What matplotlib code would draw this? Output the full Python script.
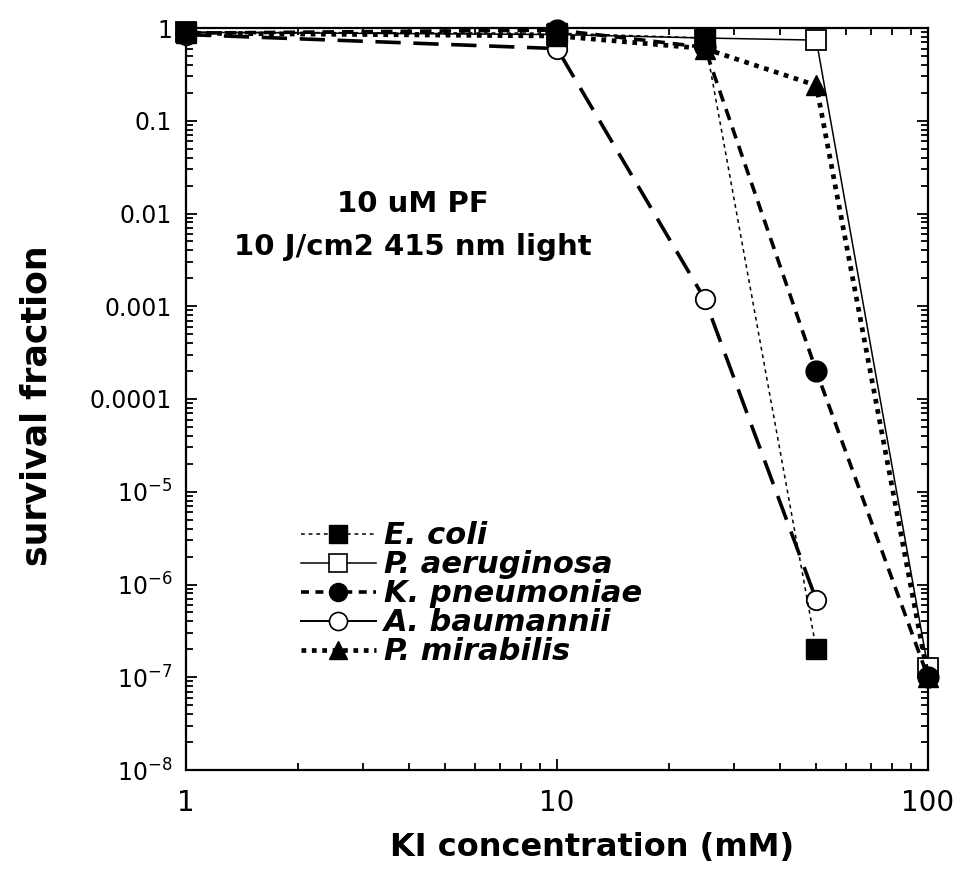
import matplotlib
matplotlib.use("Agg")
import matplotlib.pyplot as plt
from matplotlib.lines import Line2D
from matplotlib.ticker import FixedLocator, FixedFormatter, LogLocator, NullFormatter

# ---- data ----
x_ecoli = [1, 10, 25, 50]
y_ecoli = [0.9, 0.88, 0.78, 2e-7]

x_paer = [1, 10, 25, 50, 100]
y_paer = [0.9, 0.85, 0.78, 0.74, 1.25e-7]

x_kpn = [1, 10, 25, 50, 100]
y_kpn = [0.88, 0.95, 0.62, 2e-4, 1e-7]

x_abau = [1, 10, 25, 50]
y_abau = [0.85, 0.6, 1.2e-3, 6.8e-7]

x_pmir = [1, 10, 25, 50, 100]
y_pmir = [0.88, 0.82, 0.6, 0.24, 1e-7]

labels = ["E. coli", "P. aeruginosa", "K. pneumoniae", "A. baumannii", "P. mirabilis"]

y_ticks = [1, 0.1, 0.01, 0.001, 0.0001, 1e-5, 1e-6, 1e-7, 1e-8]
y_ticklabels = ["1", "0.1", "0.01", "0.001", "0.0001",
                r"$10^{-5}$", r"$10^{-6}$", r"$10^{-7}$", r"$10^{-8}$"]
x_ticks = [1, 10, 100]
x_ticklabels = ["1", "10", "100"]

plt.rcParams["font.family"] = ["DejaVu Sans"]
plt.rcParams["mathtext.fontset"] = "dejavusans"

# ---- figure ----
fig = plt.figure(figsize=(9.61, 8.73), dpi=100)
ax = fig.add_axes([186 / 961, 1 - 770 / 873, 742 / 961, 742 / 873])

ms = 15
common = dict(color="black", clip_on=False)

ax.plot(x_paer, y_paer, linestyle="-", lw=1.1, marker="s", ms=ms - 1,
        mfc="white", mec="black", mew=1.3, zorder=3, **common)
ax.plot(x_abau, y_abau, linestyle=(0, (7, 3.5)), lw=2.6, marker="o", ms=ms - 1,
        mfc="white", mec="black", mew=1.3, zorder=4, **common)
ax.plot(x_pmir, y_pmir, linestyle=(0, (1.0, 1.2)), lw=3.4, marker="^", ms=ms,
        mfc="black", mec="black", zorder=5, **common)
ax.plot(x_kpn, y_kpn, linestyle=(0, (3.2, 2.2)), lw=2.6, marker="o", ms=ms,
        mfc="black", mec="black", zorder=6, **common)
ax.plot(x_ecoli, y_ecoli, linestyle=(0, (2.5, 2.5)), lw=1.1, marker="s", ms=ms,
        mfc="black", mec="black", zorder=7, **common)

ax.set_xscale("log")
ax.set_yscale("log")
ax.set_xlim(1, 100)
ax.set_ylim(1e-8, 1)

ax.yaxis.set_major_locator(FixedLocator(y_ticks))
ax.yaxis.set_major_formatter(FixedFormatter(y_ticklabels))
ax.yaxis.set_minor_locator(LogLocator(base=10, subs=range(2, 10), numticks=20))
ax.yaxis.set_minor_formatter(NullFormatter())
ax.xaxis.set_major_locator(FixedLocator(x_ticks))
ax.xaxis.set_major_formatter(FixedFormatter(x_ticklabels))
ax.xaxis.set_minor_locator(LogLocator(base=10, subs=range(2, 10), numticks=20))
ax.xaxis.set_minor_formatter(NullFormatter())

ax.tick_params(which="both", direction="in", top=True, right=True, width=1.3)
ax.tick_params(which="major", length=8)
ax.tick_params(which="minor", length=5)
ax.tick_params(axis="y", which="major", labelsize=17, pad=10)
ax.tick_params(axis="x", which="major", labelsize=20, pad=14)
for sp in ax.spines.values():
    sp.set_linewidth(1.6)

# annotation
ax.text(0.306, 0.752, "10 uM PF", transform=ax.transAxes,
        ha="center", va="baseline", fontsize=21, fontweight="bold")
ax.text(0.306, 0.694, "10 J/cm2 415 nm light", transform=ax.transAxes,
        ha="center", va="baseline", fontsize=21, fontweight="bold")

# axis labels
fig.text(37 / 961, 1 - 406 / 873, "survival fraction", rotation=90,
         ha="center", va="center", fontsize=25, fontweight="bold")
fig.text(592 / 961, 1 - 856 / 873, "KI concentration (mM)",
         ha="center", va="baseline", fontsize=23, fontweight="bold")

# legend (legend glyphs as in the reference)
handles = [
    Line2D([], [], color="black", linestyle=(0, (2.5, 2.5)), lw=1.1, marker="s", ms=13, mfc="black"),
    Line2D([], [], color="black", linestyle="-", lw=1.1, marker="s", ms=13, mfc="white", mew=1.2),
    Line2D([], [], color="black", linestyle=(0, (2.2, 1.8)), lw=2.6, marker="o", ms=13, mfc="black"),
    Line2D([], [], color="black", linestyle="-", lw=1.4, marker="o", ms=13, mfc="white", mew=1.2),
    Line2D([], [], color="black", linestyle=(0, (1.0, 1.2)), lw=3.4, marker="^", ms=13, mfc="black"),
]
leg = ax.legend(handles, labels, loc="upper left", bbox_to_anchor=(0.155, 0.335),
                frameon=False, handlelength=2.45, handletextpad=0.25,
                labelspacing=0.0, borderaxespad=0, borderpad=0,
                prop=dict(weight="bold", style="italic", size=22))

fig.savefig("out.png", dpi=100)
